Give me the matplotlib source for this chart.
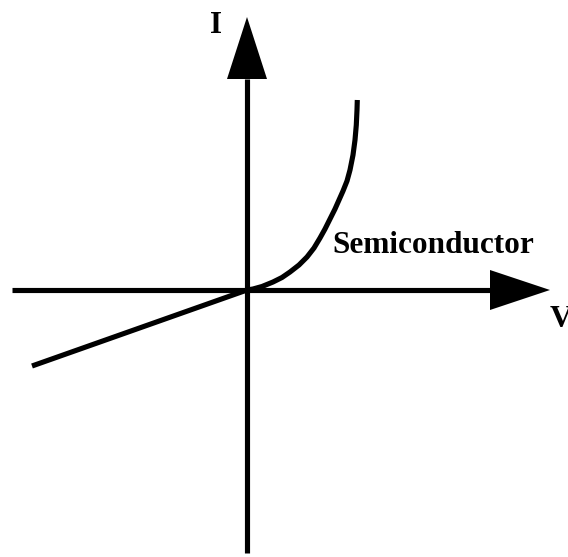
import numpy as np
import matplotlib
matplotlib.use("Agg")
import matplotlib.pyplot as plt

# I-V curve of a semiconductor (arbitrary units)
v_semi = [0, 6, 15, 26, 35, 43, 52, 60, 67, 73, 78, 83, 88, 92, 96, 100, 103, 106, 108, 109.3, 110, 110.3]
i_semi = [0, 1, 3.5, 8, 12.5, 18, 25, 33, 42, 52, 61, 71, 81, 90, 99, 109, 120, 135, 150, 165, 180, 190]

# reverse branch (straight line)
v_rev = [-215, 0]
i_rev = [-76, 0]

# axes extents
v_axis = [-235, 243]   # horizontal axis, to base of arrow head
i_axis = [-263, 211]   # vertical axis, to base of arrow head
v_tip = 303
i_tip = 273

plt.rcParams['font.family'] = ['Liberation Serif', 'DejaVu Serif']

fig = plt.figure(figsize=(5.68, 5.57), dpi=100)
ax = fig.add_axes([0, 0, 1, 1])
ax.set_xlim(-247, 321)
ax.set_ylim(-267, 290)
ax.axis('off')

lw = 3.7
ax.plot(v_axis, [0, 0], c='k', lw=lw, solid_capstyle='butt')
ax.plot([0, 0], i_axis, c='k', lw=lw, solid_capstyle='butt')

# arrow heads
ax.fill([v_axis[1], v_tip, v_axis[1]], [20, 0, -20], c='k', lw=0)
ax.fill([-20, 0, 20], [i_axis[1], i_tip, i_axis[1]], c='k', lw=0)

ax.plot(v_semi, i_semi, c='k', lw=lw, solid_capstyle='butt', solid_joinstyle='round')
ax.plot(v_rev, i_rev, c='k', lw=lw, solid_capstyle='butt')

ax.text(-37, 257, 'I', fontsize=22.5, fontweight='bold', va='baseline', ha='left')
ax.text(303, -37, 'V', fontsize=22.5, fontweight='bold', va='baseline', ha='left')
ax.text(85, 37, 'Semiconductor', fontsize=22.5, fontweight='bold', va='baseline', ha='left')

fig.savefig('out.png', dpi=100)
